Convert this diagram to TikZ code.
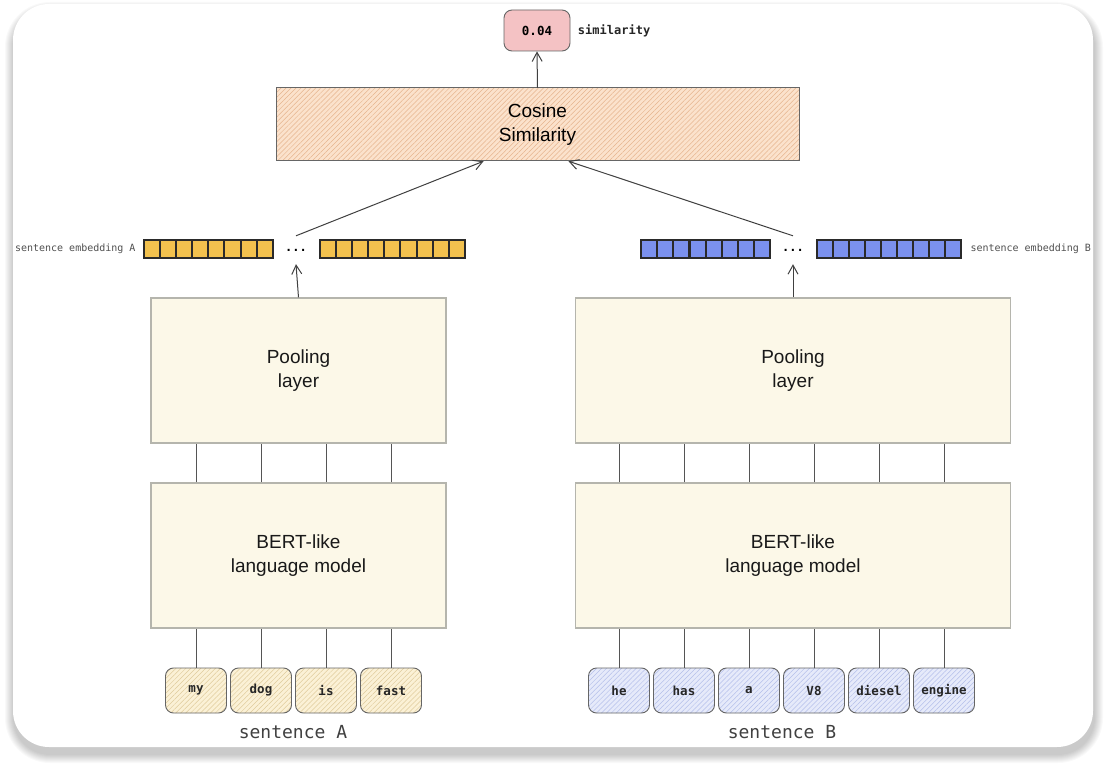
\documentclass[tikz,border=0pt]{standalone}
\usepackage{fontspec}
\setmainfont{Liberation Sans}
\setmonofont{DejaVu Sans Mono}
\usetikzlibrary{arrows.meta,positioning,patterns.meta,calc}

\definecolor{boxfill}{HTML}{FCF8E8}
\definecolor{boxline}{HTML}{B5B5AD}
\definecolor{wire}{HTML}{555555}
\definecolor{cosfill}{HTML}{FBE2CC}
\definecolor{coshatch}{HTML}{E6B48E}
\definecolor{simfill}{HTML}{F4C2C4}
\definecolor{darkline}{HTML}{666666}
\definecolor{embyellow}{HTML}{F2C14E}
\definecolor{embblue}{HTML}{7B91EE}
\definecolor{cellline}{HTML}{2A2A2A}
\definecolor{tokafill}{HTML}{FBF1D6}
\definecolor{tokahatch}{HTML}{E0CC9C}
\definecolor{tokbfill}{HTML}{E6EAFA}
\definecolor{tokbhatch}{HTML}{B4BFEA}
\definecolor{labelgrey}{HTML}{505050}

\tikzset{
  layer/.style={rectangle, draw=boxline, fill=boxfill, line width=1.2,
    minimum height=145, align=center, text=black!90,
    font=\fontsize{19}{24}\selectfont},
  token/.style={rectangle, rounded corners=8, draw=darkline, line width=0.9,
    minimum width=61, minimum height=45, text=black!85,
    font=\ttfamily\bfseries\fontsize{12.5}{14}\selectfont},
  tokena/.style={token, preaction={fill=tokafill},
    pattern={Lines[angle=45,distance=3.5pt,line width=0.5pt]}, pattern color=tokahatch},
  tokenb/.style={token, preaction={fill=tokbfill},
    pattern={Lines[angle=45,distance=3.5pt,line width=0.5pt]}, pattern color=tokbhatch},
  cell/.style={rectangle, draw=cellline, line width=2, minimum width=16.1,
    minimum height=18, inner sep=0},
  wirelink/.style={draw=wire, line width=1},
  arrow/.style={draw=black!75, line width=1, -{Straight Barb[length=9,width=10,line width=1]}},
  emblabel/.style={text=labelgrey, font=\ttfamily\fontsize{10}{12}\selectfont},
}

\begin{document}
\begin{tikzpicture}[x=1pt, y=-1pt, node distance=65]

  % card and its shadow
  \useasboundingbox (0,0) rectangle (1106,770);
  \fill[white] (0,0) rectangle (1106,770);
  \foreach \k in {1,...,9}
    \fill[black, opacity=0.024, rounded corners=36+\k]
      (13-\k+1, 4-\k+7) rectangle (1093+\k+1, 747+\k+7);
  \fill[white, rounded corners=36] (13,4) rectangle (1093,747);

  % similarity output
  \node[rectangle, rounded corners=8, draw=darkline, fill=simfill, line width=0.9,
    minimum width=66, minimum height=41,
    font=\ttfamily\bfseries\fontsize{12.5}{14}\selectfont] (sim) at (537,30.5) {0.04};
  \node[right=4 of sim, font=\ttfamily\bfseries\fontsize{12}{14}\selectfont,
    text=black!85] (simlabel) {similarity};

  \node[rectangle, draw=darkline, line width=1, minimum width=523, minimum height=73,
    preaction={fill=cosfill},
    pattern={Lines[angle=45,distance=3.5pt,line width=0.5pt]}, pattern color=coshatch,
    align=center, font=\fontsize{19}{24}\selectfont] (cosine) at (537.5,124.5)
    {Cosine\\Similarity};

  \draw[arrow] (cosine.north) -- (sim.south);

  % sentence A
  \node[layer, minimum width=295] (poolinga) at (298.5,370.5) {Pooling\\layer};
  \node[layer, minimum width=295] (berta) at (298.5,555.5) {BERT-like\\language model};

  \node[tokena] (tokena1) at (196,690.5) {my};
  \node[tokena, right of=tokena1] (tokena2) {dog};
  \node[tokena, right of=tokena2] (tokena3) {is};
  \node[tokena, right of=tokena3] (tokena4) {fast};

  \node[below of=tokena2, xshift=32, yshift=23, text=black!75,
    font=\ttfamily\fontsize{18}{20}\selectfont] (sentencea) {sentence A};

  \foreach \t in {tokena1,tokena2,tokena3,tokena4} {
    \draw[wirelink] (\t.north) -- (\t |- berta.south);
    \draw[wirelink] (\t |- berta.north) -- (\t |- poolinga.south);
  }

  % sentence B
  \node[layer, minimum width=435] (poolingb) at (793,370.5) {Pooling\\layer};
  \node[layer, minimum width=435] (bertb) at (793,555.5) {BERT-like\\language model};

  \node[tokenb] (tokenb1) at (619,690.5) {he};
  \node[tokenb, right of=tokenb1] (tokenb2) {has};
  \node[tokenb, right of=tokenb2] (tokenb3) {a};
  \node[tokenb, right of=tokenb3] (tokenb4) {V8};
  \node[tokenb, right of=tokenb4] (tokenb5) {diesel};
  \node[tokenb, right of=tokenb5] (tokenb6) {engine};

  \node[below of=tokenb3, xshift=33, yshift=23, text=black!75,
    font=\ttfamily\fontsize{18}{20}\selectfont] (sentenceb) {sentence B};

  \foreach \t in {tokenb1,tokenb2,tokenb3,tokenb4,tokenb5,tokenb6} {
    \draw[wirelink] (\t.north) -- (\t |- bertb.south);
    \draw[wirelink] (\t |- bertb.north) -- (\t |- poolingb.south);
  }

  % sentence embeddings
  \foreach \i in {0,...,7}
    \node[cell, fill=embyellow] (embaleft\i) at (152+16.1*\i,249) {};
  \foreach \i in {0,...,8}
    \node[cell, fill=embyellow] (embaright\i) at (328+16.1*\i,249) {};
  \node[minimum height=28, font=\ttfamily\bfseries\fontsize{12}{14}\selectfont]
    (dotsa) at (296,250) {...};
  \node[emblabel, anchor=east] (embalabel) at (139,249) {sentence embedding A};

  \foreach \i in {0,...,7}
    \node[cell, fill=embblue] (embbleft\i) at (649+16.2*\i,249) {};
  \foreach \i in {0,...,8}
    \node[cell, fill=embblue] (embbright\i) at (825+16*\i,249) {};
  \node[minimum height=28, font=\ttfamily\bfseries\fontsize{12}{14}\selectfont]
    (dotsb) at (793,250) {...};
  \node[emblabel, anchor=west] (embblabel) at (967,249) {sentence embedding B};

  \draw[arrow] (poolinga.north) -- (dotsa.south);
  \draw[arrow] (poolingb.north) -- (dotsb.south);
  \draw[arrow] (dotsa.north) -- ($(cosine.south)+(-54,0)$);
  \draw[arrow] (dotsb.north) -- ($(cosine.south)+(31,0)$);

\end{tikzpicture}
\end{document}
